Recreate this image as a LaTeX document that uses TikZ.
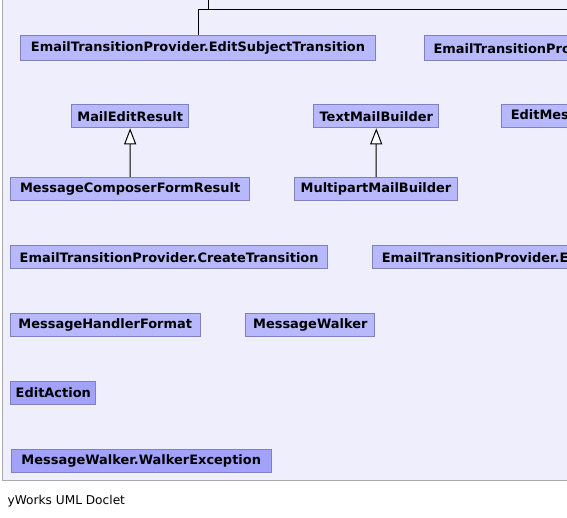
\documentclass[tikz,border=0pt]{standalone}
\usepackage{fontspec}
\setmainfont{DejaVu Sans}
\usetikzlibrary{arrows.meta}
\definecolor{panelfill}{RGB}{238,238,252}
\definecolor{panelline}{RGB}{168,168,168}
\definecolor{classfill}{RGB}{184,184,252}
\definecolor{darkfill}{RGB}{162,162,250}
\definecolor{classline}{RGB}{128,128,190}
\tikzset{
  cls/.style={draw=classline, fill=classfill, line width=1bp, inner sep=0pt,
    minimum height=23bp, anchor=north west, font=\fontsize{13}{15}\selectfont\bfseries},
  clsdark/.style={cls, fill=darkfill},
  cutcls/.style={cls, text width=#1, align=left, inner xsep=9bp},
  conn/.style={draw=black, line width=1bp},
  inherit/.style={conn, -{Triangle[length=16bp,width=12bp,fill=white]}},
}
\begin{document}
\begin{tikzpicture}[x=1bp,y=-1bp]
\useasboundingbox (0,0) rectangle (567,518);
\clip (0,0) rectangle (567,518);
\fill[white] (0,0) rectangle (567,518);
\draw[panelline, fill=panelfill, line width=1bp] (2.5,-10) rectangle (620,480.5);

% row 1
\node[cls, minimum width=355bp, minimum height=24.5bp] (est) at (20,35.5) {EmailTransitionProvider.EditSubjectTransition};
\node[cutcls=200bp, minimum height=24.5bp] (etp) at (424,35.5) {EmailTransitionProvider};
% row 2
\node[cls, minimum width=117.3bp] (mer) at (71,104.3) {MailEditResult};
\node[cls, minimum width=125bp] (tmb) at (313.3,104.3) {TextMailBuilder};
\node[cutcls=100bp] (emr) at (501.3,104.3) {EditMessage};
% row 3
\node[cls, minimum width=239.3bp] (mcfr) at (10,177) {MessageComposerFormResult};
\node[cls, minimum width=162.4bp] (mmb) at (294.3,177) {MultipartMailBuilder};
% row 4
\node[cls, minimum width=317.3bp] (ct) at (10,245.3) {EmailTransitionProvider.CreateTransition};
\node[cutcls=220bp] (etpe) at (372.3,245.3) {EmailTransitionProvider.Edit};
% row 5
\node[cls, minimum width=189.5bp] (mhf) at (10,313) {MessageHandlerFormat};
\node[cls, minimum width=129.2bp] (mw) at (245.2,313) {MessageWalker};
% row 6
\node[clsdark, minimum width=85bp] (ea) at (10.3,381) {EditAction};
% row 7
\node[clsdark, minimum width=260.5bp] (mwe) at (10.5,449) {MessageWalker.WalkerException};

% connectors
\coordinate (top) at (208,-5);
\coordinate (bend) at (208,10);
\coordinate (farright) at (620,10);
\draw[conn] (top) -- (bend);
\draw[conn] (est.north) |- (farright);
\draw[inherit] (mcfr.north) -- (mer.south);
\draw[inherit] (mmb.north) -- (tmb.south);

\node[anchor=base west, inner sep=0pt, font=\fontsize{12.2}{14}\selectfont] (credit) at (7.5,504) {yWorks UML Doclet};
\end{tikzpicture}
\end{document}
